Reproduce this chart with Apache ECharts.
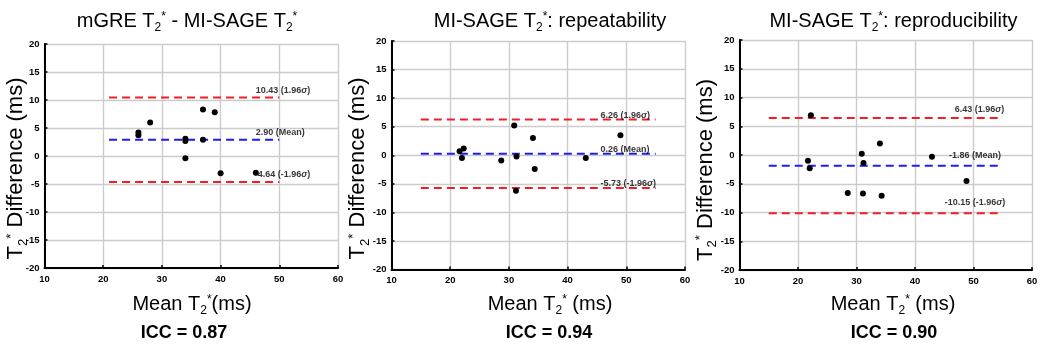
<!DOCTYPE html>
<html><head><meta charset="utf-8">
<script src="https://cdn.jsdelivr.net/npm/echarts@6/dist/echarts.min.js"></script>
<style>html,body{margin:0;padding:0;background:#fff}#c{width:1049px;height:352px}</style>
</head><body><div id="c"></div>
<script>
// ---- data ----
const titles = ['mGRE T2* - MI-SAGE T2*', 'MI-SAGE T2*: repeatability', 'MI-SAGE T2*: reproducibility'];
const xNames = ['Mean T2*(ms)', 'Mean T2* (ms)', 'Mean T2* (ms)'];
const yName = 'T2* Difference (ms)';
const iccLabels = ['ICC = 0.87', 'ICC = 0.94', 'ICC = 0.90'];

const p1Mean = [26, 26, 28, 34, 34, 34, 37, 37, 39, 40, 46];
const p1Diff = [4.2, 3.7, 6.0, 3.1, 2.7, -0.4, 8.3, 2.9, 7.8, -3.1, -3.0];
const p2Mean = [21.6, 22.3, 22.0, 28.7, 30.9, 31.3, 31.2, 34.1, 34.4, 43.1, 49.0];
const p2Diff = [0.7, 1.2, -0.5, -0.9, 5.2, -0.2, -6.2, 3.0, -2.4, -0.5, 3.5];
const p3Mean = [22.2, 21.7, 22.0, 28.5, 30.9, 31.2, 31.1, 34.0, 34.3, 42.9, 48.8];
const p3Diff = [6.9, -1.0, -2.3, -6.6, 0.2, -1.4, -6.7, 2.0, -7.1, -0.3, -4.5];

const upperLimit = [10.43, 6.26, 6.43];
const meanDiff = [2.90, 0.26, -1.86];
const lowerLimit = [-4.64, -5.73, -10.15];
const lineFrom = [21, 15, 15];
const lineTo = [50, 55, 55];

const xMin = 10, xMax = 60, xStep = 10;
const yMin = -20, yMax = 20, yStep = 5;

// ---- layout ----
const FONT = '"Liberation Sans", Arial, Helvetica, sans-serif';
const panels = [
  {grid: {left: 44.5, top: 44, width: 293.5, height: 224}, titleX: 187, nameX: 192, iccX: 184, yNameX: 16, yNameY: 168.5, labelX: [46, 46, 45.8], labelDy: [7, 7, 7.5]},
  {grid: {left: 391.5, top: 41, width: 293.5, height: 228.5}, titleX: 550, nameX: 550, iccX: 549, yNameX: 358, yNameY: 168.5, labelX: [45.6, 45.6, 45.6], labelDy: [4, 4.5, 4.5]},
  {grid: {left: 739.5, top: 40, width: 292.5, height: 230}, titleX: 893.5, nameX: 893, iccX: 894, yNameX: 705.5, yNameY: 170, labelX: [46.8, 45.8, 45.1], labelDy: [9, 10, 11]}
];
const ptsX = [p1Mean, p2Mean, p3Mean];
const ptsY = [p1Diff, p2Diff, p3Diff];
const RED = '#f01e28', BLUE = '#1e1ef0';

function richT(str) {
  return str.split('T2*').map(s => s ? '{m|' + s + '}' : '').join('{m|T}{sub|2}{sup|*}');
}
function makeRich(fs) {
  const k = fs / 20;
  return {
    m: {fontSize: fs, lineHeight: 30 * k, fontFamily: FONT, fill: '#000', verticalAlign: 'middle'},
    sub: {fontSize: 12 * k, height: 17.4 * k, fontFamily: FONT, fill: '#000', verticalAlign: 'bottom'},
    sup: {fontSize: 12 * k, height: 20.8 * k, fontFamily: FONT, fill: '#000', verticalAlign: 'top'}
  };
}
function textEl(text, x, y, extra) {
  const style = Object.assign({text: text, fill: '#000', align: 'center', textAlign: 'center',
    verticalAlign: 'middle', textVerticalAlign: 'middle', fontFamily: FONT, fontSize: 20, rich: makeRich(20)}, extra && extra.style);
  return Object.assign({type: 'text', x: x, y: y, silent: true, z: 10}, extra && extra.el, {style: style});
}

const grids = [], xAxes = [], yAxes = [], series = [], graphics = [];
const axisCommon = {
  type: 'value',
  axisLine: {show: true, onZero: false, lineStyle: {color: '#000', width: 2}},
  axisTick: {show: true, inside: true, length: 3, lineStyle: {color: '#000', width: 1.5}},
  splitLine: {show: true, lineStyle: {color: '#cccccc', width: 1.4}}
};
const labelFont = {color: '#000', fontSize: 9.5, fontWeight: 'bold', fontFamily: FONT};

panels.forEach((p, i) => {
  grids.push(Object.assign({outerBoundsMode: 'none', containLabel: false}, p.grid));
  xAxes.push(Object.assign({}, axisCommon, {gridIndex: i, min: xMin, max: xMax, interval: xStep,
    axisLabel: Object.assign({margin: 6}, labelFont)}));
  yAxes.push(Object.assign({}, axisCommon, {gridIndex: i, min: yMin, max: yMax, interval: yStep,
    axisLabel: Object.assign({margin: 5}, labelFont)}));

  const lines = [
    {v: upperLimit[i], c: RED, kind: '(1.96', sig: true, end: ')'},
    {v: meanDiff[i], c: BLUE, kind: '(Mean)', sig: false},
    {v: lowerLimit[i], c: RED, kind: '(-1.96', sig: true, end: ')'}
  ];
  lines.forEach((l) => {
    series.push({type: 'line', xAxisIndex: i, yAxisIndex: i, symbol: 'none', silent: true, z: 2,
      data: [[lineFrom[i], l.v], [lineTo[i], l.v]],
      lineStyle: {color: l.c, width: 2, type: [8, 5]}});
  });
  series.push({type: 'scatter', xAxisIndex: i, yAxisIndex: i, symbol: 'circle', symbolSize: 6, z: 5,
    itemStyle: {color: '#000', opacity: 1}, data: ptsX[i].map((x, j) => [x, ptsY[i][j]])});
  series.push({type: 'scatter', xAxisIndex: i, yAxisIndex: i, symbolSize: 0, z: 6, silent: true,
    data: lines.map((l, k) => ({
      value: [p.labelX[k], l.v],
      label: {
        show: true, position: 'right', distance: 0, offset: [0, -p.labelDy[k]],
        formatter: '{n|' + l.v.toFixed(2) + ' ' + l.kind + '}' + (l.sig ? '{s|σ}{n|' + l.end + '}' : ''),
        rich: {
          n: {fontSize: 9, fontWeight: 'bold', fontFamily: FONT, color: '#000'},
          s: {fontSize: 9, fontStyle: 'italic', fontWeight: 'bold', fontFamily: FONT, color: '#000'}
        }
      }
    }))});

  graphics.push(textEl(richT(titles[i]), p.titleX, 21.5));
  graphics.push(textEl(richT(xNames[i]), p.nameX, 304.5));
  graphics.push(textEl(richT(yName), p.yNameX, p.yNameY, {el: {rotation: Math.PI / 2}, style: {fontSize: 22, rich: makeRich(22)}}));
  graphics.push(textEl(iccLabels[i], p.iccX, 333.5, {style: {fontSize: 18, fontWeight: 'bold', rich: null}}));
});

const chart = echarts.init(document.getElementById('c'));
chart.setOption({
  backgroundColor: '#fff',
  animation: false,
  grid: grids, xAxis: xAxes, yAxis: yAxes, series: series,
  graphic: {elements: graphics}
});
</script></body></html>
